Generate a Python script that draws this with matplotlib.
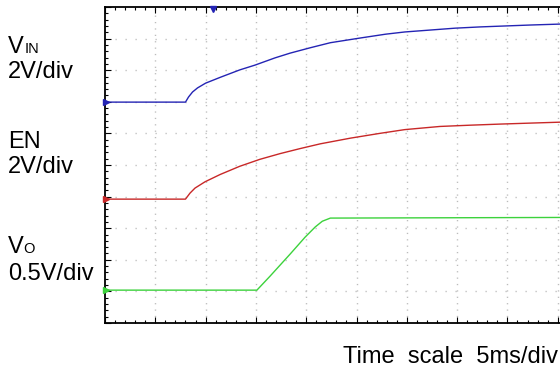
import matplotlib.pyplot as plt
from matplotlib.ticker import MultipleLocator

# scope capture, time in ms, voltages in V
t_vin = [0, 8.0, 8.3, 8.7, 9.2, 10.0, 11.5, 13.4, 14.9, 16.9, 18.4, 20.4, 22.4,
         25.4, 27.9, 29.8, 32.3, 34.8, 37.3, 39.8, 42.3, 45.3, 50]
vin = [0, 0, 0.32, 0.64, 0.90, 1.20, 1.58, 2.04, 2.34, 2.80, 3.10, 3.44, 3.76,
       4.06, 4.30, 4.44, 4.56, 4.68, 4.76, 4.82, 4.88, 4.94, 4.98]

t_en = [0, 8.0, 8.45, 8.95, 9.95, 11.45, 13.4, 15.4, 17.4, 19.4, 21.4, 24.4,
        27.3, 29.8, 33.3, 36.3, 39.3, 42.2, 45.2, 50]
en = [0, 0, 0.38, 0.70, 1.10, 1.56, 2.08, 2.52, 2.88, 3.20, 3.50, 3.86,
      4.16, 4.40, 4.60, 4.68, 4.75, 4.81, 4.87, 4.90]

t_vo = [0, 15.1, 16.4, 18.4, 19.9, 20.9, 21.6, 22.4, 45.2, 50]
vo = [0, 0, 0.22, 0.57, 0.84, 1.00, 1.09, 1.14, 1.15, 1.15]

trig_ms = 10.7

# channel settings: volts per div, ground position in div
ms_per_div = 5
channels = [
    (t_vin, vin, 2.0, 6.99, '#2424b4'),
    (t_en, en, 2.0, 3.92, '#c82828'),
    (t_vo, vo, 0.5, 1.04, '#3cd23c'),
]

fig = plt.figure(figsize=(5.6, 3.69), dpi=100)
ax = fig.add_axes([105 / 560, 46 / 369, 503 / 560, 316 / 369])
ax.set_xlim(0, 10)
ax.set_ylim(0, 10)

# dotted graticule
for k in range(1, 10):
    ax.axvline(k, color='#bcbcbc', lw=1.0, dashes=(0.9, 3.7), zorder=1)
    ax.axhline(k, color='#bcbcbc', lw=1.0, dashes=(0.9, 6.3), zorder=1)

for t, v, scale, pos, col in channels:
    x = [ti / ms_per_div for ti in t]
    y = [pos + vi / scale for vi in v]
    ax.plot(x, y, color=col, lw=1.0, zorder=3)
    # ground marker
    ax.plot([0.02], [pos], marker='>', ms=4, color=col, clip_on=False, zorder=4)

# trigger marker
ax.plot([trig_ms / ms_per_div], [9.93], marker='v', ms=5, color='#2424b4',
        clip_on=False, zorder=4)

ax.xaxis.set_major_locator(MultipleLocator(1))
ax.xaxis.set_minor_locator(MultipleLocator(0.2))
ax.yaxis.set_major_locator(MultipleLocator(1))
ax.yaxis.set_minor_locator(MultipleLocator(0.2))
ax.tick_params(which='both', direction='in', top=True, bottom=True, left=True,
               right=True, labelbottom=False, labelleft=False, width=0.8)
ax.tick_params(which='major', length=4)
ax.tick_params(which='minor', length=2.5)
for s in ax.spines.values():
    s.set_linewidth(1.3)

font = 'Liberation Sans'


def ftext(x, y, s, size):
    fig.text(x / 560, 1 - y / 369, s, fontsize=size, family=font, va='baseline')


ftext(8, 53, 'V', 17)
ftext(24.5, 53, 'IN', 10.5)
ftext(8, 78, '2V/div', 17)
ftext(8, 148, 'EN', 17)
ftext(8, 173, '2V/div', 17)
ftext(8, 253, 'V', 17)
ftext(23.5, 253, 'O', 10.5)
ftext(8, 280, '0.5V/div', 17)

fig.text(558 / 560, 1 - 363 / 369, 'Time  scale  5ms/div', fontsize=17,
         family=font, ha='right', va='baseline')

fig.savefig('out.png', dpi=100)
